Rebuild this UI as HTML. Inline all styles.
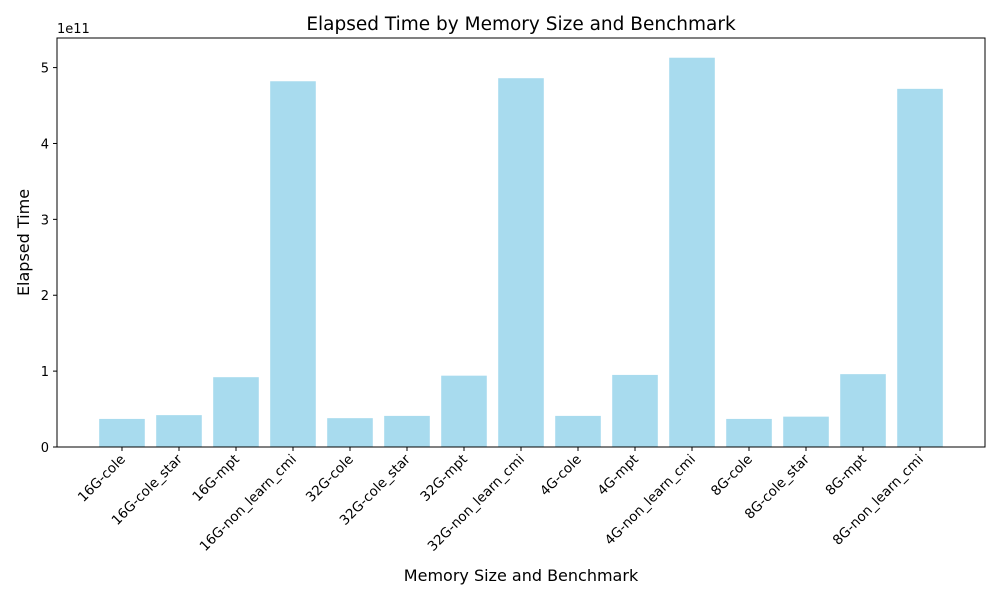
<!DOCTYPE html>
<html><head><meta charset="utf-8"><style>body{margin:0;background:#fff}svg text{font-family:"DejaVu Sans","Liberation Sans",sans-serif}</style></head>
<body>
<svg id="chart" width="1000" height="600"></svg>
<script>
const categories=["16G-cole","16G-cole_star","16G-mpt","16G-non_learn_cmi","32G-cole","32G-cole_star","32G-mpt","32G-non_learn_cmi","4G-cole","4G-mpt","4G-non_learn_cmi","8G-cole","8G-cole_star","8G-mpt","8G-non_learn_cmi"];
const values=[0.37,0.42,0.92,4.82,0.38,0.41,0.94,4.86,0.41,0.95,5.13,0.37,0.40,0.96,4.72];
const yTicks=[0,1,2,3,4,5];
const NS="http://www.w3.org/2000/svg";
const svg=document.getElementById('chart');
const L=57,R=985,T=38,B=447;
const yMax=5.39;
const y=v=>B-(v/yMax)*(B-T);
const pad=1.14;
const step=(R-L)/(categories.length-1+2*pad);
const x=i=>L+step*(i+pad);
function mk(t,a,p){const e=document.createElementNS(NS,t);for(const k in a)e.setAttribute(k,a[k]);if(p!==undefined)e.textContent=p;svg.appendChild(e);return e;}
categories.forEach((c,i)=>{
 const w=step*0.8;
 const r=mk('rect',{x:x(i)-w/2,y:y(values[i]),width:w,height:B-y(values[i]),fill:'#a8dbee'});
 
 
 const tk=mk('line',{x1:x(i),x2:x(i),y1:B,y2:B+4,stroke:'#000'});
 
 
 const t=mk('text',{x:x(i)+4,y:B+13,'font-size':13.5,'text-anchor':'end',transform:`rotate(-45 ${x(i)+4} ${B+13})`},c);
 
 
});
yTicks.forEach(v=>{
 const tk=mk('line',{x1:L-4,x2:L,y1:y(v),y2:y(v),stroke:'#000'});
 
 
 const t=mk('text',{x:L-8,y:y(v)+5,'font-size':13,'text-anchor':'end'},String(v));
 
 
});
const fr=mk('rect',{x:L,y:T,width:R-L,height:B-T,fill:'none',stroke:'#000'});


const ex=mk('text',{x:L,y:T-5,'font-size':13},'1e11');


const ti=mk('text',{x:(L+R)/2,y:30,'font-size':18.5,'text-anchor':'middle'},'Elapsed Time by Memory Size and Benchmark');


const xt=mk('text',{x:(L+R)/2,y:581,'font-size':16,'text-anchor':'middle'},'Memory Size and Benchmark');


const yt=mk('text',{x:29,y:(T+B)/2,'font-size':16,'text-anchor':'middle',transform:`rotate(-90 29 ${(T+B)/2})`},'Elapsed Time');


</script>
</body></html>
